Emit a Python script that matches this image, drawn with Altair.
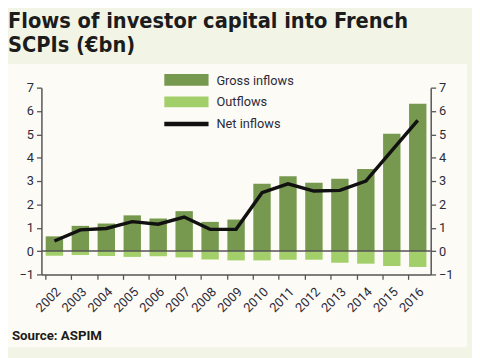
import altair as alt
import pandas as pd

years = ["2002", "2003", "2004", "2005", "2006", "2007", "2008", "2009",
         "2010", "2011", "2012", "2013", "2014", "2015", "2016"]
gross = [0.63, 1.08, 1.18, 1.53, 1.39, 1.71, 1.25, 1.35, 2.88, 3.2, 2.93, 3.1, 3.52, 5.02, 6.31]
outflows = [-0.2, -0.17, -0.21, -0.25, -0.22, -0.27, -0.36, -0.4, -0.4, -0.37, -0.37, -0.5, -0.54, -0.64, -0.68]
net = [0.43, 0.91, 0.97, 1.26, 1.15, 1.46, 0.93, 0.93, 2.5, 2.88, 2.57, 2.6, 3.0, 4.3, 5.6]
y_ticks = [-1, 0, 1, 2, 3, 4, 5, 6, 7]

df = pd.DataFrame({"year": years, "gross": gross, "outflows": outflows, "net": net})

W, H = 396, 190
FONT = "Roboto"
yscale = alt.Scale(domain=[-1, 7], nice=False)
xscale = alt.Scale(paddingInner=0.33, paddingOuter=0.165)

axis_common = dict(domainColor="#555555", domainWidth=1.5, tickColor="#555555", tickWidth=1.3,
                   tickSize=5, labelFont=FONT, labelFontSize=13, labelColor="#2b2b3b",
                   grid=False, title=None, values=y_ticks, labelPadding=3, zindex=2)

x_axis = alt.Axis(title=None, labelAngle=315, bandPosition=0, domainColor="#555555", domainWidth=1.5,
                  tickColor="#555555", tickWidth=1.3, tickSize=5, labelFont=FONT, labelFontSize=13,
                  labelColor="#2b2b3b", labelPadding=6, grid=False, zindex=2)

base = alt.Chart(df)

panel = alt.Chart(pd.DataFrame({"p": [0]})).mark_rect(color="#fdfbf5").encode(
    x=alt.value(-35), x2=alt.value(433), y=alt.value(-24), y2=alt.value(264))

gross_bar = base.mark_bar(color="#76994f").encode(
    x=alt.X("year:N", scale=xscale, axis=x_axis, sort=None),
    y=alt.Y("gross:Q", scale=yscale, axis=alt.Axis(orient="left", **axis_common)))

out_bar = base.mark_bar(color="#a3cf6b").encode(
    x=alt.X("year:N", scale=xscale, sort=None),
    y=alt.Y("outflows:Q", scale=yscale, axis=None))

zero = alt.Chart(pd.DataFrame({"z": [0]})).mark_rule(color="#555555", strokeWidth=1.5).encode(
    y=alt.Y("z:Q", scale=yscale, axis=None))

net_line = base.mark_line(color="#111111", strokeWidth=3.5).encode(
    x=alt.X("year:N", scale=xscale, sort=None),
    y=alt.Y("net:Q", scale=yscale, axis=alt.Axis(orient="right", **axis_common)))

def one(label):
    return alt.Chart(pd.DataFrame({"label": [label]}))

leg_g = one("Gross inflows").mark_rect(color="#76994f").encode(
    x=alt.value(125), x2=alt.value(170), y=alt.value(-14), y2=alt.value(-2))
leg_o = one("Outflows").mark_rect(color="#a3cf6b").encode(
    x=alt.value(125), x2=alt.value(170), y=alt.value(9), y2=alt.value(20))
leg_n = one("Net inflows").mark_rule(color="#111111", strokeWidth=4.5).encode(
    x=alt.value(125), x2=alt.value(170), y=alt.value(37))

def leg_text(label, yv):
    return one(label).mark_text(align="left", baseline="middle", font=FONT, fontSize=13,
                                color="#2b2b3b").encode(text="label:N", x=alt.value(178), y=alt.value(yv))

source = one("Source: ASPIM").mark_text(align="left", baseline="middle", font=FONT, fontSize=13.5,
                                        fontWeight="bold", color="#1c1c1c").encode(
    text="label:N", x=alt.value(-30), y=alt.value(253))

chart = alt.layer(
    panel, gross_bar, out_bar, zero, net_line,
    leg_g, leg_o, leg_n,
    leg_text("Gross inflows", -7), leg_text("Outflows", 15), leg_text("Net inflows", 37),
    source,
).resolve_axis(y="independent").properties(
    width=W, height=H,
    background="#f2f5e6",
    autosize=alt.AutoSizeParams(type="none"),
    padding={"left": 34, "top": 78, "right": 42, "bottom": 82},
    title=alt.TitleParams(
        text=["Flows of investor capital into French", "SCPIs (€bn)"],
        anchor="start", frame="group", dx=-34, offset=7,
        font="DejaVu Sans Condensed", fontSize=22, fontWeight="bold",
        color="#1c1c1c", lineHeight=25),
).configure_view(stroke=None)

chart.save("out.html", embed_options={"renderer": "svg", "actions": False})
